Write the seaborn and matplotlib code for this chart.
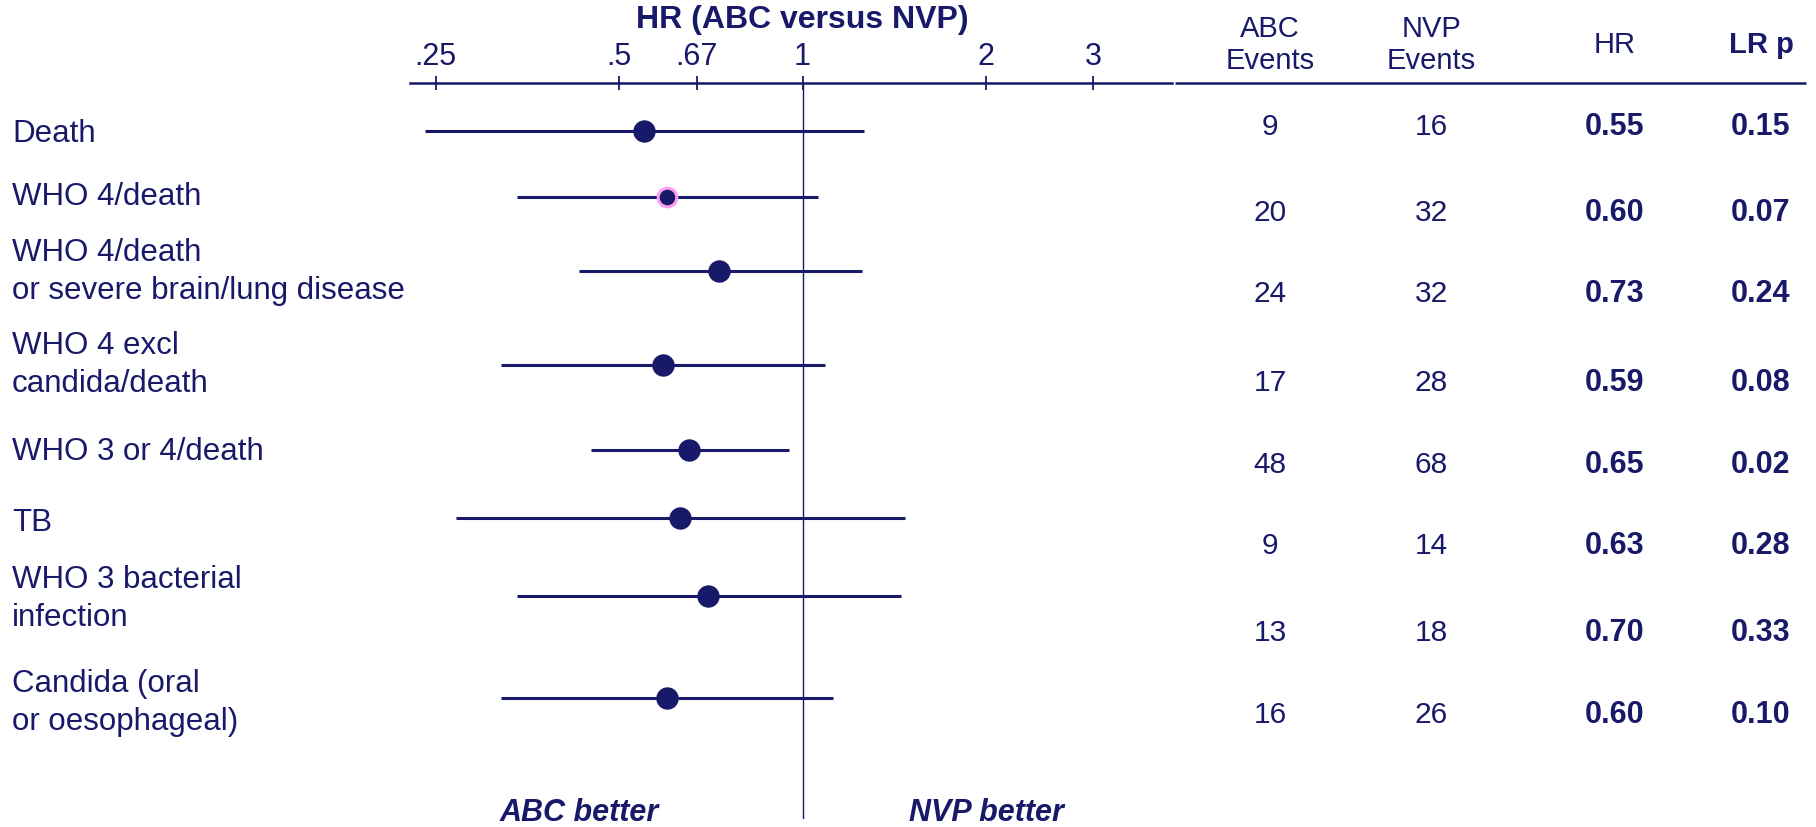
import numpy as np
import pandas as pd
import matplotlib
matplotlib.use("Agg")
import matplotlib.pyplot as plt
import seaborn as sns
from matplotlib.ticker import NullLocator

# ---------------- data ----------------
outcomes = [
    "Death",
    "WHO 4/death",
    "WHO 4/death\nor severe brain/lung disease",
    "WHO 4 excl\ncandida/death",
    "WHO 3 or 4/death",
    "TB",
    "WHO 3 bacterial\ninfection",
    "Candida (oral\nor oesophageal)",
]
hr = [0.55, 0.60, 0.73, 0.59, 0.65, 0.63, 0.70, 0.60]
ci_low = [0.24, 0.34, 0.43, 0.32, 0.45, 0.27, 0.34, 0.32]
ci_high = [1.26, 1.06, 1.25, 1.09, 0.95, 1.47, 1.45, 1.12]
abc_events = [9, 20, 24, 17, 48, 9, 13, 16]
nvp_events = [16, 32, 32, 28, 68, 14, 18, 26]
hr_text = ["0.55", "0.60", "0.73", "0.59", "0.65", "0.63", "0.70", "0.60"]
lr_p = ["0.15", "0.07", "0.24", "0.08", "0.02", "0.28", "0.33", "0.10"]
highlight = [False, True, False, False, False, False, False, False]
tick_values = [0.25, 0.5, 0.67, 1, 2, 3]
tick_labels = [".25", ".5", ".67", "1", "2", "3"]
table_headers = ["ABC\nEvents", "NVP\nEvents", "HR", "LR p"]

# ---------------- layout (pixel-like units) ----------------
W, H = 1816, 827
row_y = [131, 197, 271, 365, 450, 518, 596, 698]
label_y = [134, 197, 272, 365, 452, 523, 599, 703]
table_y = [127, 213, 294, 383, 465, 546, 633, 715]
col_x = [1270, 1431, 1615, 1761]

NAVY = "#19196a"
PINK = "#ff9cf0"

sns.set_theme(style="white")
plt.rcParams["font.family"] = ["Liberation Sans", "DejaVu Sans"]

df = pd.DataFrame({
    "outcome": outcomes, "hr": hr, "lo": ci_low, "hi": ci_high,
    "y": row_y, "hl": highlight,
})

fig = plt.figure(figsize=(W / 100, H / 100), dpi=100)
fig.patch.set_facecolor("white")

# background / text axes in pixel coordinates
ax_bg = fig.add_axes([0, 0, 1, 1])
ax_bg.set_xlim(0, W)
ax_bg.set_ylim(H, 0)
ax_bg.axis("off")

# forest axes
x0, x1, ytop, ybot = 410, 1172, 83, 819
ax = fig.add_axes([x0 / W, 1 - ybot / H, (x1 - x0) / W, (ybot - ytop) / H])
ax.patch.set_alpha(0)
ax.set_xscale("log")
ax.set_xlim(0.2269, 4.037)
ax.set_ylim(ybot, ytop)

ax.hlines(df["y"], df["lo"], df["hi"], color=NAVY, lw=2.2, zorder=2)
ax.axvline(1, color=NAVY, lw=1.0, zorder=1)
sns.scatterplot(data=df[~df["hl"]], x="hr", y="y", ax=ax, s=260,
                color=NAVY, edgecolor=NAVY, linewidth=0, zorder=3, legend=False)
sns.scatterplot(data=df[df["hl"]], x="hr", y="y", ax=ax, s=180,
                color=NAVY, edgecolor=PINK, linewidth=2.2, zorder=3, legend=False)

for s in ["left", "right", "bottom"]:
    ax.spines[s].set_visible(False)
ax.spines["top"].set_color(NAVY)
ax.spines["top"].set_linewidth(1.8)
ax.xaxis.tick_top()
ax.set_xticks(tick_values)
ax.set_xticklabels(tick_labels)
ax.xaxis.set_minor_locator(NullLocator())
ax.tick_params(axis="x", which="major", direction="inout", length=10, width=1.3,
               color=NAVY, labelsize=22, labelcolor=NAVY, pad=3,
               top=True, bottom=False, labeltop=True, labelbottom=False)
ax.set_yticks([])
ax.set_xlabel("")
ax.set_ylabel("")
ax.grid(False)

ax.text(1, 20, "HR (ABC versus NVP)", ha="center", va="center", fontsize=23,
        fontweight="bold", color=NAVY, clip_on=False)
ax.text(0.43, 813, "ABC better", ha="center", va="center", fontsize=22,
        fontweight="bold", fontstyle="italic", color=NAVY, clip_on=False)
ax.text(2, 813, "NVP better", ha="center", va="center", fontsize=22,
        fontweight="bold", fontstyle="italic", color=NAVY, clip_on=False)

# outcome labels
for lab, y in zip(outcomes, label_y):
    ax_bg.text(12, y, lab, ha="left", va="center", fontsize=22.5, color=NAVY,
               linespacing=1.32)

# table
ax_bg.hlines(83, 1175, 1806, color=NAVY, lw=1.8)
for hdr, cx in zip(table_headers, col_x):
    ax_bg.text(cx, 45, hdr, ha="center", va="center", fontsize=21, color=NAVY,
               linespacing=1.15, fontweight="bold" if hdr == "LR p" else "normal")
for a, n, h, p, y in zip(abc_events, nvp_events, hr_text, lr_p, table_y):
    ax_bg.text(col_x[0], y, str(a), ha="center", va="center", fontsize=21.5, color=NAVY)
    ax_bg.text(col_x[1], y, str(n), ha="center", va="center", fontsize=21.5, color=NAVY)
    ax_bg.text(col_x[2], y, h, ha="center", va="center", fontsize=22,
               fontweight="bold", color=NAVY)
    ax_bg.text(col_x[3], y, p, ha="center", va="center", fontsize=22,
               fontweight="bold", color=NAVY)

fig.savefig("out.png", dpi=100)
